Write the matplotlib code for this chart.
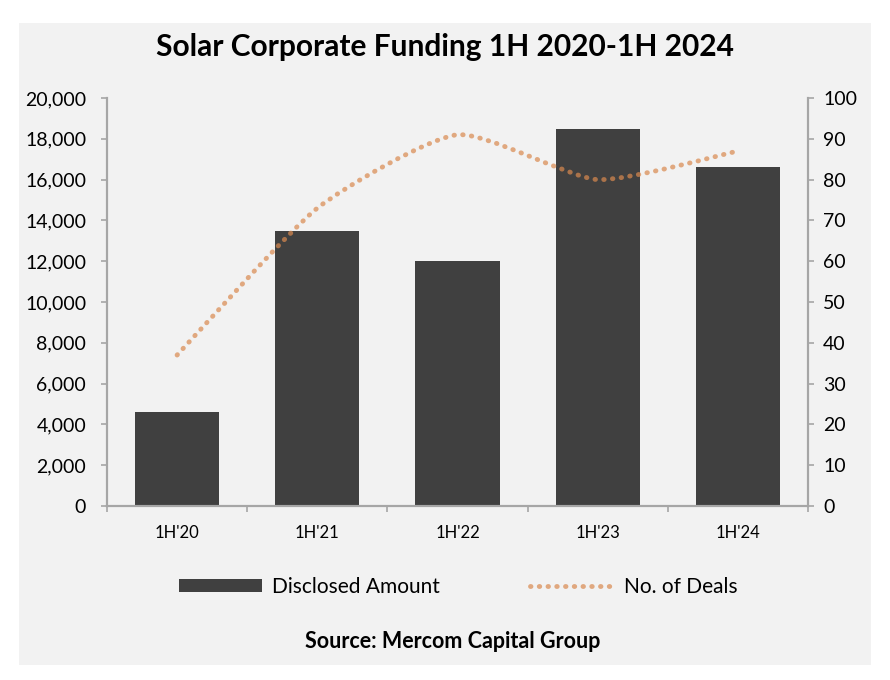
import matplotlib
matplotlib.use("Agg")
import matplotlib.pyplot as plt
from matplotlib.path import Path
from matplotlib.patches import PathPatch, Patch, Rectangle
from matplotlib.lines import Line2D
from matplotlib.ticker import FuncFormatter, MultipleLocator
import numpy as np

# chart data
periods = ["1H'20", "1H'21", "1H'22", "1H'23", "1H'24"]
disclosed_amount = [4600, 13500, 12000, 18500, 16600]
num_deals = [37, 73, 91, 80, 87]

bar_color = "#404040"
line_color = "#D9894F"
axis_gray = "#A6A6A6"
bg = "#F2F2F2"
dots = (0, (0.1, 1.7))

plt.rcParams["font.family"] = ["Lato", "DejaVu Sans"]

fig = plt.figure(figsize=(8.9, 6.8), dpi=100, facecolor="white")
fig.patches.append(Rectangle((19 / 890, 15 / 680), 852 / 890, 642 / 680,
                             transform=fig.transFigure, facecolor=bg,
                             edgecolor="none", zorder=-5))

ax = fig.add_axes([107 / 890, 174 / 680, 701 / 890, 408 / 680])
ax.set_facecolor("none")
x = np.arange(len(periods))
ax.bar(x, disclosed_amount, width=0.6, color=bar_color, zorder=2)
ax.set_xlim(-0.5, len(periods) - 0.5)
ax.set_ylim(0, 20000)
ax.yaxis.set_major_locator(MultipleLocator(2000))
ax.yaxis.set_major_formatter(FuncFormatter(lambda v, p: f"{int(v):,}"))
ax.set_xticks(x)
ax.set_xticklabels(periods)
ax.set_xticks(np.arange(-0.5, len(periods)), minor=True)
ax.tick_params(axis="x", which="major", length=0, pad=14, labelsize=12)
ax.tick_params(axis="x", which="minor", length=4, color=axis_gray, width=1.2)
ax.tick_params(axis="y", length=4, color=axis_gray, width=1.2, pad=11, labelsize=14)

ax2 = ax.twinx()
ax2.set_ylim(0, 100)
ax2.yaxis.set_major_locator(MultipleLocator(10))
ax2.tick_params(axis="y", length=4, color=axis_gray, width=1.2, pad=7, labelsize=14)

for a in (ax, ax2):
    a.spines["top"].set_visible(False)
    for s in ("left", "right", "bottom"):
        a.spines[s].set_color(axis_gray)
        a.spines[s].set_linewidth(1.5)

# lightly smoothed line (bezier through the points)
k = 1 / 10
px = list(x.astype(float))
py = list(map(float, num_deals))
verts = [(px[0], py[0])]
codes = [Path.MOVETO]
n = len(px)
for i in range(n - 1):
    i0 = max(i - 1, 0)
    i3 = min(i + 2, n - 1)
    c1 = (px[i] + (px[i + 1] - px[i0]) * k, py[i] + (py[i + 1] - py[i0]) * k)
    c2 = (px[i + 1] - (px[i3] - px[i]) * k, py[i + 1] - (py[i3] - py[i]) * k)
    verts += [c1, c2, (px[i + 1], py[i + 1])]
    codes += [Path.CURVE4] * 3
ax2.add_patch(PathPatch(Path(verts, codes), fill=False, edgecolor=line_color,
                        alpha=0.7, linewidth=3.5, linestyle=dots,
                        capstyle="round", zorder=3))

fig.text(0.5, 1 - 47 / 680, "Solar Corporate Funding 1H 2020-1H 2024",
         ha="center", va="center", fontsize=21.5, fontweight="bold")
fig.text(453 / 890, 1 - 641 / 680, "Source: Mercom Capital Group",
         ha="center", va="center", fontsize=15.5, fontweight="bold")

handles = [Patch(facecolor=bar_color, edgecolor="none"),
           Line2D([0], [0], color=line_color, alpha=0.7, linewidth=3.5,
                  linestyle=dots, dash_capstyle="round")]
fig.legend(handles, ["Disclosed Amount", "No. of Deals"], ncol=2,
           loc="center", bbox_to_anchor=(458 / 890, 1 - 587 / 680),
           frameon=False, fontsize=15, handlelength=4.0, handleheight=0.6,
           handletextpad=0.5, columnspacing=4.3)

fig.savefig("out.png", dpi=100, facecolor="white")
